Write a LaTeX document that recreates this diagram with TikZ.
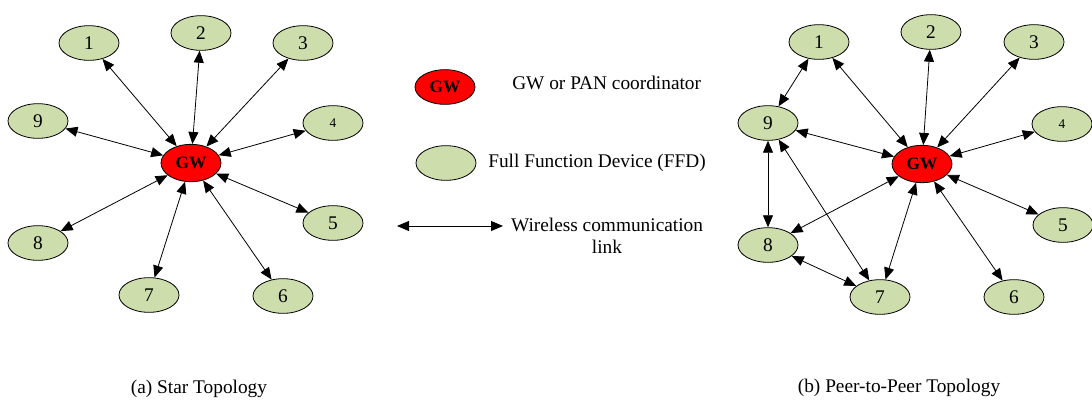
\documentclass[tikz,border=0pt]{standalone}
\usepackage{fontspec}
\setmainfont{Liberation Serif}
\usetikzlibrary{arrows.meta,shapes.geometric}
\definecolor{ffd}{RGB}{205,221,172}

\begin{document}
\begin{tikzpicture}[x=0.75pt, y=-0.75pt,
  nd/.style={ellipse, draw=black, line width=0.6pt, fill=#1, inner sep=0pt,
             minimum width=45pt, minimum height=26pt,
             font=\fontsize{14.5}{17}\selectfont},
  nd/.default=ffd,
  gw/.style={nd=red, font=\fontsize{13}{15}\selectfont\bfseries},
  sm/.style={font=\fontsize{10}{12}\selectfont},
  ar/.style={{Triangle[length=9pt,width=7.5pt]}-{Triangle[length=9pt,width=7.5pt]},
             line width=0.6pt},
  tx/.style={inner sep=0pt, font=\fontsize{14.5}{16.5}\selectfont},
]
\useasboundingbox (0,0) rectangle (1092,401);

% (a) star
\node[gw, minimum height=28pt] (aGW) at (191,163) {GW};
\node[nd]     (a1)  at (89,43)   {1};
\node[nd]     (a2)  at (201,33)  {2};
\node[nd]     (a3)  at (303,43)  {3};
\node[nd,sm]  (a4)  at (333,123) {4};
\node[nd]     (a5)  at (333,223) {5};
\node[nd]     (a6)  at (283,296) {6};
\node[nd]     (a7)  at (149,295) {7};
\node[nd]     (a8)  at (38,243)  {8};
\node[nd]     (a9)  at (38,121)  {9};

\draw[ar] (aGW) edge (a1) edge (a2) edge (a3) edge (a4) edge (a5)
                edge (a6) edge (a7) edge (a8) edge (a9);

% legend
\node[gw] (lgw)  at (445,87)  {GW};
\node[tx, anchor=west] (tgw) at (512,83) {GW or PAN coordinator};
\node[nd] (lffd) at (446,163) {};
\node[tx, anchor=west] (tffd) at (488,163) {Full Function Device (FFD)};
\coordinate (la) at (397,226);
\coordinate (lb) at (503,226);
\draw[ar] (la) -- (lb);
\node[tx, align=center] (tlink) at (607,236) {Wireless communication\\link};

% (b) peer-to-peer
\node[gw, minimum height=28pt] (bGW) at (922,164) {GW};
\node[nd]     (b1)  at (819,42)   {1};
\node[nd]     (b2)  at (931,32)   {2};
\node[nd]     (b3)  at (1034,42)  {3};
\node[nd,sm]  (b4)  at (1062,124) {4};
\node[nd]     (b5)  at (1063,225) {5};
\node[nd]     (b6)  at (1014,297) {6};
\node[nd]     (b7)  at (880,297)  {7};
\node[nd]     (b8)  at (768,245)  {8};
\node[nd]     (b9)  at (768,123)  {9};

\draw[ar] (bGW) edge (b1) edge (b2) edge (b3) edge (b4) edge (b5)
                edge (b6) edge (b7) edge (b8) edge (b9);
\draw[ar] (b9) edge (b1) edge (b8) edge (b7);
\draw[ar] (b8) -- (b7);

% captions
\node[tx] (capa) at (199,389) {(a) Star Topology};
\node[tx] (capb) at (899,388) {(b) Peer-to-Peer Topology};
\end{tikzpicture}
\end{document}
